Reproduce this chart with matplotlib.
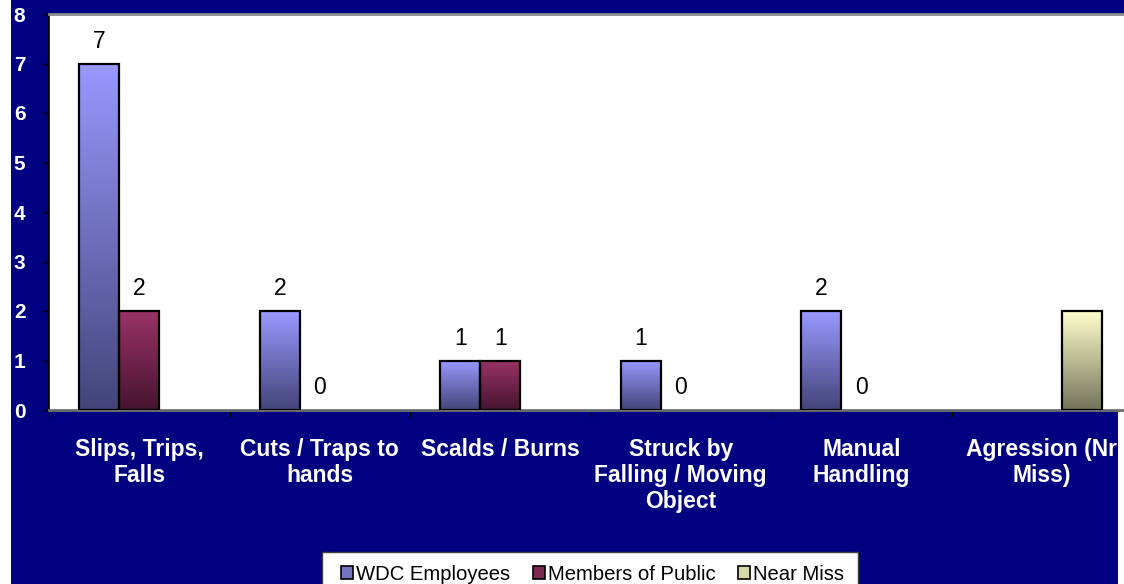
import matplotlib
matplotlib.use("Agg")
import matplotlib.pyplot as plt
import numpy as np
from matplotlib.patches import Rectangle, Patch
from matplotlib.ticker import FixedLocator

plt.rcParams['font.family'] = ['Liberation Sans', 'DejaVu Sans']

categories = ["Slips, Trips,\nFalls", "Cuts / Traps to\nhands", "Scalds / Burns",
              "Struck by\nFalling / Moving\nObject", "Manual\nHandling", "Agression (Nr\nMiss)"]
wdc_employees = [7, 2, 1, 1, 2, None]
members_public = [2, 0, 1, 0, 0, None]
near_miss = [None, None, None, None, None, 2]
series_names = ["WDC Employees", "Members of Public", "Near Miss"]

NAVY = "#000080"
# (top colour, bottom colour) for each series gradient
grads = [("#9999ff", "#44447a"), ("#993366", "#461430"), ("#ffffcc", "#74745c")]

W, H = 1124, 584
fig = plt.figure(figsize=(W / 100, H / 100), dpi=100)
fig.patch.set_facecolor("white")
# navy chart background
fig.add_artist(Rectangle((11 / W, 0), (1118 - 11) / W, 1, transform=fig.transFigure,
                         facecolor=NAVY, edgecolor="none", zorder=0))
fig.add_artist(Rectangle((11 / W, (H - 14) / H), 1, 14 / H, transform=fig.transFigure,
                         facecolor=NAVY, edgecolor="none", zorder=0))

group_px = 180.5
ax = fig.add_axes([49 / W, (H - 410) / H, 6 * group_px / W, (410 - 14) / H])
ax.set_facecolor("white")

bw = 40 / group_px
all_series = [wdc_employees, members_public, near_miss]


def hex_rgb(h):
    return np.array([int(h[i:i + 2], 16) for i in (1, 3, 5)]) / 255.0


for j, vals in enumerate(all_series):
    top, bot = hex_rgb(grads[j][0]), hex_rgb(grads[j][1])
    t = np.linspace(0, 1, 200)[:, None]
    img = (top * (1 - t) + bot * t)[:, None, :]
    for i, v in enumerate(vals):
        if v is None or v == 0:
            continue
        x0 = i + 0.5 + (j - 1.5) * bw
        ax.imshow(img, extent=[x0, x0 + bw, 0, v], aspect="auto", origin="upper",
                  interpolation="bilinear", zorder=2)
        ax.add_patch(Rectangle((x0, 0), bw, v, facecolor="none", edgecolor="black",
                               linewidth=1.6, zorder=3))

# value labels for employees and public
for j, vals in enumerate(all_series[:2]):
    for i, v in enumerate(vals):
        if v is None:
            continue
        xc = i + 0.5 + (j - 1) * bw
        ax.annotate(str(v), (xc, v), xytext=(0, 11.5), textcoords="offset points",
                    ha="center", va="baseline", fontsize=16.5, color="black")

ax.set_xlim(0, 6)
ax.set_ylim(0, 8)
ax.set_yticks(range(0, 9))
ax.set_yticklabels([str(k) for k in range(0, 9)])
ax.tick_params(axis="y", direction="out", length=5, width=1, color="black", pad=12,
               labelsize=15, labelcolor="white")
for lbl in ax.get_yticklabels():
    lbl.set_fontweight("bold")

ax.set_xticks(np.arange(6) + 0.5)
ax.set_xticklabels(categories, fontsize=16.5, fontweight="bold", color="white", linespacing=1.16)
ax.tick_params(axis="x", which="major", length=0, pad=20)
ax.xaxis.set_minor_locator(FixedLocator(range(0, 7)))
ax.tick_params(axis="x", which="minor", direction="out", length=5, width=1, color="black")

ax.spines["left"].set_color("black")
ax.spines["left"].set_linewidth(1.2)
ax.spines["bottom"].set_color("#6e6e6e")
ax.spines["bottom"].set_linewidth(2)
ax.spines["top"].set_color("#8c8c8c")
ax.spines["top"].set_linewidth(2)
ax.spines["right"].set_visible(False)

# legend box, running off the bottom edge
fig.add_artist(Rectangle((322 / W, -0.05), (858 - 322) / W, 0.05 + (H - 552) / H,
                         transform=fig.transFigure, facecolor="white",
                         edgecolor="#404040", linewidth=1, zorder=1))
handles = [Patch(facecolor=c, edgecolor="black", linewidth=1.2)
           for c in ["#7373c0", "#7a2a50", "#d8d8a8"]]
leg = fig.legend(handles, series_names, loc="upper left", ncol=3,
                 bbox_to_anchor=(341 / W, (H - 565) / H), fontsize=14.6, frameon=False,
                 handlelength=0.6, handleheight=0.6, handletextpad=0.15,
                 columnspacing=1.1, borderpad=0, borderaxespad=0)
leg.set_zorder(2)

fig.savefig("out.png", dpi=100, facecolor=fig.get_facecolor())
